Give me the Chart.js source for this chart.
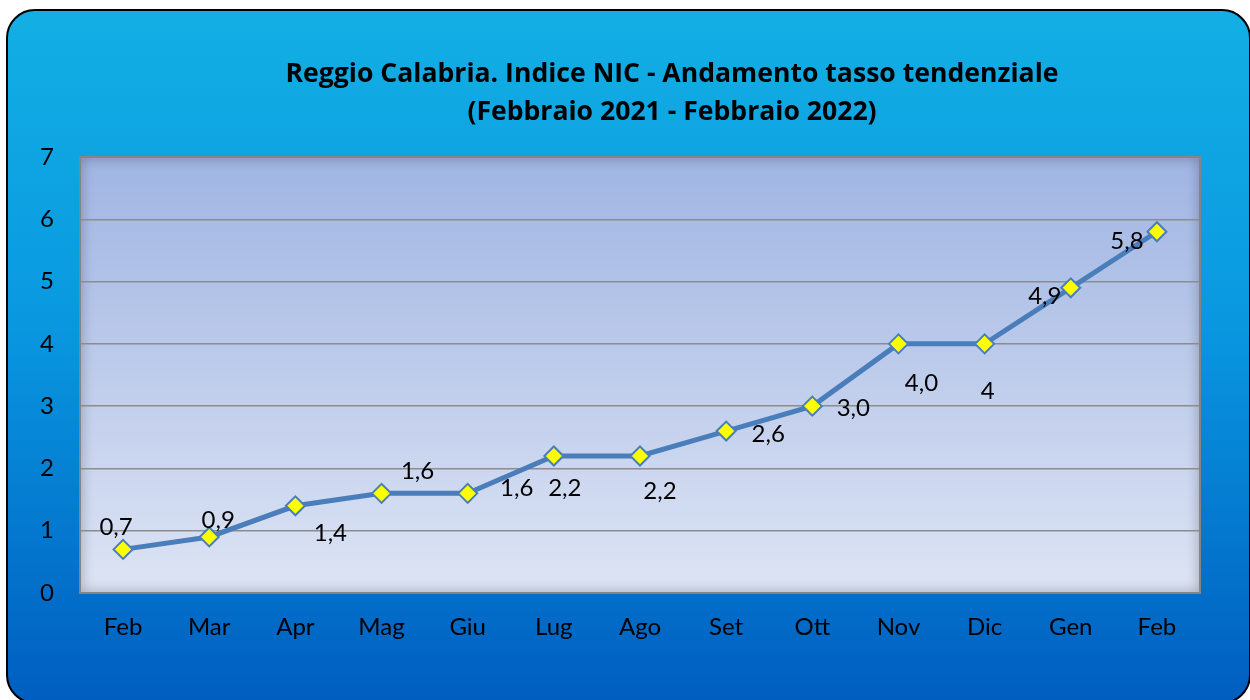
<!DOCTYPE html>
<html>
<head>
<meta charset="utf-8">
<script src="https://cdn.jsdelivr.net/npm/chart.js@4.4.0/dist/chart.umd.min.js"></script>
<style>
  html, body { margin: 0; padding: 0; background: #ffffff; }
  #wrap { width: 1250px; height: 700px; }
</style>
</head>
<body>
<div id="wrap"><canvas id="nic" width="1250" height="700"></canvas></div>
<script>
// months from Feb 2021 to Feb 2022
var months = ['Feb', 'Mar', 'Apr', 'Mag', 'Giu', 'Lug', 'Ago', 'Set', 'Ott', 'Nov', 'Dic', 'Gen', 'Feb'];
var tassoTendenziale = [0.7, 0.9, 1.4, 1.6, 1.6, 2.2, 2.2, 2.6, 3.0, 4.0, 4.0, 4.9, 5.8];
var valueLabels = ['0,7', '0,9', '1,4', '1,6', '1,6', '2,2', '2,2', '2,6', '3,0', '4,0', '4', '4,9', '5,8'];
var titleLines = ['Reggio Calabria. Indice NIC - Andamento tasso tendenziale', '(Febbraio 2021 - Febbraio 2022)'];

// where each label sits relative to its marker (px)
var labelShift = [[-7, -22], [9, -17], [35, 27], [36, -22], [49, -5], [11, 32], [20, 35],
                  [42, 3], [41, 2], [23, 39], [3, 47], [-26, 8], [-30, 10]];

var FONT = 'Lato, "Open Sans", sans-serif';
var TITLE_FONT = '"Open Sans", Lato, sans-serif';

function roundRect(ctx, x, y, w, h, r) {
  ctx.beginPath();
  ctx.moveTo(x + r, y);
  ctx.lineTo(x + w - r, y);
  ctx.arcTo(x + w, y, x + w, y + r, r);
  ctx.lineTo(x + w, y + h - r);
  ctx.arcTo(x + w, y + h, x + w - r, y + h, r);
  ctx.lineTo(x + r, y + h);
  ctx.arcTo(x, y + h, x, y + h - r, r);
  ctx.lineTo(x, y + r);
  ctx.arcTo(x, y, x + r, y, r);
  ctx.closePath();
}

var backdrop = {
  id: 'backdrop',
  beforeDraw: function(chart) {
    var ctx = chart.ctx, a = chart.chartArea;
    ctx.save();
    // outer panel
    roundRect(ctx, 7, 10, 1243, 693, 28);
    var g = ctx.createLinearGradient(0, 10, 0, 700);
    g.addColorStop(0, '#13afe4');
    g.addColorStop(0.45, '#0998e0');
    g.addColorStop(1, '#005ec0');
    ctx.fillStyle = g;
    ctx.fill();
    ctx.lineWidth = 2;
    ctx.strokeStyle = '#000000';
    ctx.stroke();

    // plot area
    var pg = ctx.createLinearGradient(0, a.top, 0, a.bottom);
    pg.addColorStop(0, '#a0b5e3');
    pg.addColorStop(1, '#dde4f4');
    ctx.fillStyle = pg;
    ctx.fillRect(a.left, a.top, a.right - a.left, a.bottom - a.top);

    // inner shadow
    ctx.save();
    ctx.beginPath();
    ctx.rect(a.left, a.top, a.right - a.left, a.bottom - a.top);
    ctx.clip();
    ctx.shadowColor = 'rgba(0,0,0,0.55)';
    ctx.shadowBlur = 14;
    ctx.lineWidth = 10;
    ctx.strokeStyle = 'rgba(90,90,90,0.6)';
    ctx.strokeRect(a.left - 5, a.top - 5, a.right - a.left + 10, a.bottom - a.top + 10);
    ctx.restore();

    // title, sized to the width it has in the original
    ctx.fillStyle = '#000000';
    ctx.font = 'bold 25px ' + TITLE_FONT;
    var size = 25 * 773 / ctx.measureText(titleLines[0]).width;
    ctx.font = 'bold ' + size.toFixed(1) + 'px ' + TITLE_FONT;
    ctx.textAlign = 'center';
    ctx.textBaseline = 'middle';
    ctx.fillText(titleLines[0], 672, 74);
    ctx.fillText(titleLines[1], 672, 112);
    ctx.restore();
  },
  afterDraw: function(chart) {
    var ctx = chart.ctx, a = chart.chartArea;
    ctx.save();
    ctx.lineWidth = 2;
    ctx.strokeStyle = '#858585';
    ctx.strokeRect(a.left, a.top, a.right - a.left, a.bottom - a.top);
    ctx.restore();
  }
};

var valueTags = {
  id: 'valueTags',
  afterDatasetsDraw: function(chart) {
    var ctx = chart.ctx;
    var meta = chart.getDatasetMeta(0);
    ctx.save();
    ctx.fillStyle = '#000000';
    ctx.font = '24px ' + FONT;
    ctx.textAlign = 'center';
    ctx.textBaseline = 'middle';
    meta.data.forEach(function(pt, i) {
      ctx.fillText(valueLabels[i], pt.x + labelShift[i][0], pt.y + labelShift[i][1]);
    });
    ctx.restore();
  }
};

new Chart('nic', {
  type: 'line',
  data: {
    labels: months,
    datasets: [{
      label: 'Tasso tendenziale',
      data: tassoTendenziale,
      borderColor: '#4a7ebb',
      borderWidth: 5,
      tension: 0,
      pointStyle: 'rectRot',
      pointRadius: 9.5,
      pointHoverRadius: 9.5,
      pointBackgroundColor: '#ffff00',
      pointBorderColor: '#4a7ebb',
      pointBorderWidth: 2
    }]
  },
  plugins: [backdrop, valueTags],
  options: {
    responsive: false,
    animation: false,
    events: [],
    layout: { padding: { left: 20, right: 50, top: 157, bottom: 47 } },
    plugins: {
      legend: { display: false },
      title: { display: false },
      tooltip: { enabled: false }
    },
    scales: {
      x: {
        offset: true,
        grid: { display: false },
        border: { display: false },
        ticks: { color: '#000000', font: { family: FONT, size: 24 }, padding: 12 },
        afterFit: function(scale) { scale.height = 60; }
      },
      y: {
        min: 0,
        max: 7,
        grid: { color: '#8c8c8c', lineWidth: 1.5, drawTicks: false },
        border: { display: false },
        ticks: { stepSize: 1, color: '#000000', font: { family: FONT, size: 24 }, padding: 26 },
        afterFit: function(scale) { scale.width = 60; }
      }
    }
  }
});
</script>
</body>
</html>
